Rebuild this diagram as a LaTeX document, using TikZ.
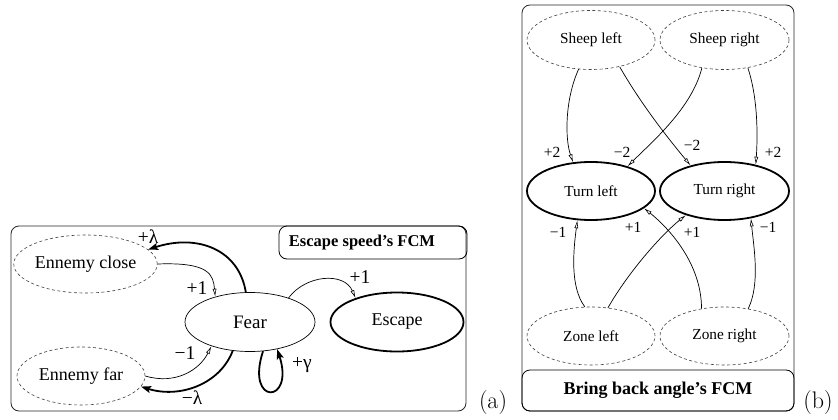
\documentclass[tikz,border=0pt]{standalone}
\usepackage{fontspec}
\setmainfont{Liberation Serif}
\newfontfamily\lmfont{Latin Modern Roman}
\usetikzlibrary{shapes.geometric,arrows.meta}
\begin{document}
\begin{tikzpicture}[x=1pt,y=-1pt,
  fa/.style={font=\rmfamily\fontsize{18}{20}\selectfont},
  fb/.style={font=\rmfamily\fontsize{15.3}{17}\selectfont},
  dashnode/.style={ellipse, draw=black!75, dash pattern=on 3pt off 2.5pt, line width=0.6pt, inner sep=0pt},
  plainnode/.style={ellipse, draw=black, line width=0.7pt, inner sep=0pt},
  thicknode/.style={ellipse, draw=black, line width=1.8pt, inner sep=0pt},
  thinarr/.style={line width=0.7pt, -{Latex[open,length=8pt,width=4pt,line width=0.6pt]}},
  thickarr/.style={line width=1.8pt, -{Stealth[length=10pt,width=7pt,inset=2pt]}},
  lbla/.style={font=\rmfamily\fontsize{19.5}{21}\selectfont, inner sep=0pt},
  lblb/.style={font=\rmfamily\fontsize{15.5}{17}\selectfont, inner sep=0pt},
  frame/.style={draw=black!85, line width=0.8pt, rounded corners=8pt},
  titlebox/.style={draw=black, line width=0.8pt, rounded corners=8pt}
]
\useasboundingbox (0,0) rectangle (838,420);

% ---------- part (a) ----------
\draw[frame] (11,226) rectangle (466,411);
\draw[titlebox] (279,226) rectangle (467,259);
\node[font=\rmfamily\bfseries\fontsize{16.5}{18}\selectfont] (ta) at (362,243) {Escape speed’s FCM};

\node[dashnode, fa, minimum width=125pt, minimum height=58pt] (ec) at (85.5,264) {Ennemy close};
\node[plainnode, font=\rmfamily\fontsize{19}{21}\selectfont, minimum width=130pt, minimum height=59pt] (fear) at (250,322) {Fear};
\node[thicknode, fa, minimum width=133pt, minimum height=59pt] (esc) at (397,322) {Escape};
\node[dashnode, fa, minimum width=128pt, minimum height=58pt] (ef) at (81,376) {Ennemy far};

\draw[thinarr] (ec.east) .. controls +(52,-2) and +(-2,-22) .. (fear.144);
\draw[thickarr] (fear.98) .. controls +(-7,-43) and +(49,-16) .. (ec.13);
\draw[thinarr] (fear.32) .. controls +(17,-23) and +(-11.5,-26.6) .. (esc.150);
\draw[thinarr] (ef.east) .. controls +(30,9) and +(-12,24) .. (fear.212);
\draw[thickarr] (fear.239) .. controls +(-13,34) and +(38,12) .. (ef.350);
\draw[thickarr] (fear.294) .. controls +(-18,55) and +(18,55) .. (fear.315);

\node[lbla] (l1) at (197,288) {+1};
\node[lbla] (l2) at (148,237) {+λ};
\node[lbla] (l3) at (360,277) {+1};
\node[lbla] (l4) at (185,353) {−1};
\node[lbla] (l5) at (192,398) {−λ};
\node[lbla] (l6) at (302,365) {+γ};

\node[font=\lmfont\fontsize{24}{26}\selectfont, inner sep=0pt] (capa) at (493,403) {(a)};

% ---------- part (b) ----------
\draw[frame] (522,5) rectangle (794,411);
\draw[titlebox] (522,370) rectangle (794,411);
\node[font=\rmfamily\bfseries\fontsize{18}{20}\selectfont] (tb) at (658,390) {Bring back angle’s FCM};

\node[dashnode, fb, minimum width=128pt, minimum height=59pt] (sl) at (591,40) {Sheep left};
\node[dashnode, fb, minimum width=129pt, minimum height=59pt] (sr) at (724.5,40) {Sheep right};
\node[thicknode, fb, minimum width=128pt, minimum height=58pt] (tl) at (591,191) {Turn left};
\node[thicknode, fb, minimum width=129pt, minimum height=58pt] (tr) at (724.5,191) {Turn right};
\node[dashnode, fb, minimum width=128pt, minimum height=58pt] (zl) at (591,336) {Zone left};
\node[dashnode, fb, minimum width=129pt, minimum height=58pt] (zr) at (724.5,336) {Zone right};

\draw[thinarr] (sl.247) .. controls +(-14,31) and +(-8,-23) .. (tl.122);
\draw[thinarr] (sl.317) .. controls +(20,35) and +(-25,-30) .. (tr.143);
\draw[thinarr] (sr.231) .. controls +(-10,40) and +(25,-25) .. (tl.34);
\draw[thinarr] (sr.310) .. controls +(10,30) and +(2,-30) .. (tr.40);
\draw[thinarr] (zl.102) .. controls +(-15,-20) and +(-4,30) .. (tl.245);
\draw[thinarr] (zl.59) .. controls +(20,-35) and +(-25,20) .. (tr.212);
\draw[thinarr] (zr.130) .. controls +(0,-45) and +(25,20) .. (tl.342);
\draw[thinarr] (zr.49) .. controls +(12,-25) and +(3,30) .. (tr.314);

\node[lblb] (m1) at (552,152) {+2};
\node[lblb] (m2) at (622,152) {−2};
\node[lblb] (m3) at (692,145) {−2};
\node[lblb] (m4) at (773,152) {+2};
\node[lblb] (m5) at (558,232) {−1};
\node[lblb] (m6) at (633,227) {+1};
\node[lblb] (m7) at (692,232) {+1};
\node[lblb] (m8) at (768,227) {−1};

\node[font=\lmfont\fontsize{24}{26}\selectfont, inner sep=0pt] (capb) at (818,403) {(b)};
\end{tikzpicture}
\end{document}
